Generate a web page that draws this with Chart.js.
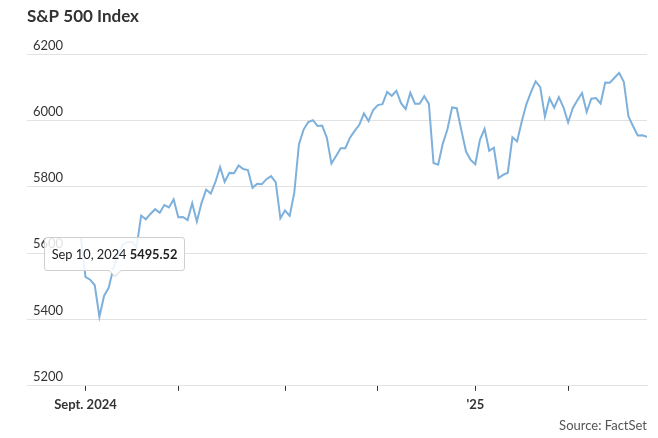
<!DOCTYPE html>
<html>
<head>
<meta charset="utf-8">
<title>S&amp;P 500 Index</title>
<script src="https://cdn.jsdelivr.net/npm/chart.js@4/dist/chart.umd.min.js"></script>
<style>
  body { margin: 0; background: #fff; }
  #wrap { position: relative; width: 658px; height: 438px; }
  #tip {
    position: absolute;
    opacity: 0;
    background: rgba(255, 255, 255, 0.85);
    border: 1px solid #cfcfcf;
    border-radius: 3px;
    font: 12.8px Lato, sans-serif;
    color: #222;
    padding: 7px 7px;
    line-height: 18px;
    white-space: nowrap;
    pointer-events: none;
  }
  #tip::before, #tip::after {
    content: '';
    position: absolute;
    left: 50%;
    border-style: solid;
    border-color: transparent;
  }
  #tip::before { top: 100%; margin-left: -7px; border-width: 7px 7px 0 7px; border-top-color: #cfcfcf; }
  #tip::after { top: 100%; margin-left: -6px; border-width: 6px 6px 0 6px; border-top-color: rgba(255, 255, 255, 0.95); }
  #tip b { font-weight: 700; }
</style>
</head>
<body>
<div id="wrap">
  <canvas id="my-chart" width="658" height="438"></canvas>
  <div id="tip"></div>
</div>
<script>
'use strict';

// ******** DATA **************
// trading days shown on the chart
let dates = [
  '2024-08-30',
  '2024-09-03', '2024-09-04', '2024-09-05', '2024-09-06', '2024-09-09', '2024-09-10', '2024-09-11', '2024-09-12', '2024-09-13', '2024-09-16',
  '2024-09-17', '2024-09-18', '2024-09-19', '2024-09-20', '2024-09-23', '2024-09-24', '2024-09-25', '2024-09-26', '2024-09-27', '2024-09-30',
  '2024-10-01', '2024-10-02', '2024-10-03', '2024-10-04', '2024-10-07', '2024-10-08', '2024-10-09', '2024-10-10', '2024-10-11', '2024-10-14',
  '2024-10-15', '2024-10-16', '2024-10-17', '2024-10-18', '2024-10-21', '2024-10-22', '2024-10-23', '2024-10-24', '2024-10-25', '2024-10-28',
  '2024-10-29', '2024-10-30', '2024-10-31',
  '2024-11-01', '2024-11-04', '2024-11-05', '2024-11-06', '2024-11-07', '2024-11-08', '2024-11-11', '2024-11-12', '2024-11-13', '2024-11-14',
  '2024-11-15', '2024-11-18', '2024-11-19', '2024-11-20', '2024-11-21', '2024-11-22', '2024-11-25', '2024-11-26', '2024-11-27', '2024-11-29',
  '2024-12-02', '2024-12-03', '2024-12-04', '2024-12-05', '2024-12-06', '2024-12-09', '2024-12-10', '2024-12-11', '2024-12-12', '2024-12-13',
  '2024-12-16', '2024-12-17', '2024-12-18', '2024-12-19', '2024-12-20', '2024-12-23', '2024-12-24', '2024-12-26', '2024-12-27', '2024-12-30',
  '2024-12-31',
  '2025-01-02', '2025-01-03', '2025-01-06', '2025-01-07', '2025-01-08', '2025-01-10', '2025-01-13', '2025-01-14', '2025-01-15', '2025-01-16',
  '2025-01-17', '2025-01-21', '2025-01-22', '2025-01-23', '2025-01-24', '2025-01-27', '2025-01-28', '2025-01-29', '2025-01-30', '2025-01-31',
  '2025-02-03', '2025-02-04', '2025-02-05', '2025-02-06', '2025-02-07', '2025-02-10', '2025-02-11', '2025-02-12', '2025-02-13', '2025-02-14',
  '2025-02-18', '2025-02-19', '2025-02-20', '2025-02-21', '2025-02-24', '2025-02-25', '2025-02-26', '2025-02-27'
];

// index level, one per trading day
let closes = [
  5648.40,
  5528.93, 5520.07, 5503.41, 5408.42, 5471.05, 5495.52, 5554.13, 5595.76, 5626.02, 5633.09,
  5634.58, 5618.26, 5713.64, 5702.55, 5718.57, 5732.93, 5722.26, 5745.37, 5738.17, 5762.48,
  5708.75, 5709.54, 5699.94, 5751.07, 5695.94, 5751.13, 5792.04, 5780.05, 5815.03, 5859.85,
  5815.26, 5842.47, 5841.47, 5864.67, 5853.98, 5851.20, 5797.42, 5809.86, 5808.12, 5823.52,
  5832.92, 5813.67, 5705.45,
  5728.80, 5712.69, 5782.76, 5929.04, 5973.10, 5995.54, 6001.35, 5983.99, 5985.38, 5949.17,
  5870.62, 5893.62, 5916.98, 5917.11, 5948.71, 5969.34, 5987.37, 6021.63, 5998.74, 6032.38,
  6047.15, 6049.88, 6086.49, 6075.11, 6090.27, 6052.85, 6034.91, 6084.19, 6051.25, 6051.09,
  6074.08, 6050.61, 5872.16, 5867.08, 5930.85, 5974.07, 6040.04, 6037.59, 5970.84, 5906.94,
  5881.63,
  5868.55, 5942.47, 5975.38, 5909.03, 5918.25, 5827.04, 5836.22, 5842.91, 5949.91, 5937.34,
  5996.66, 6049.24, 6086.37, 6118.71, 6101.24, 6012.28, 6067.70, 6039.31, 6071.17, 6040.53,
  5994.57, 6037.88, 6061.48, 6083.57, 6025.99, 6066.44, 6068.50, 6051.97, 6115.07, 6114.63,
  6129.58, 6144.15, 6117.52, 6013.13, 5983.25, 5955.25, 5956.06, 5951.00
];

// month ticks on the x axis and their labels
let monthTicks = ['2024-09', '2024-10', '2024-11', '2024-12', '2025-01', '2025-02'];
let monthLabels = ['Sept. 2024', '', '', '', '\'25', ''];

// y axis tick values
let yTicks = [5200, 5400, 5600, 5800, 6000, 6200];

// the day the tooltip is showing
let tipDate = '2024-09-10';

let monthNames = ['Jan', 'Feb', 'Mar', 'Apr', 'May', 'Jun', 'Jul', 'Aug', 'Sep', 'Oct', 'Nov', 'Dec'];

// ********* DOM REFERENCES ****************
let canvasElem = document.getElementById('my-chart');
let tipElem = document.getElementById('tip');

// *********** HELPER FUNCTIONS ***************
function formatDate(str) {
  let parts = str.split('-');
  return `${monthNames[Number(parts[1]) - 1]} ${Number(parts[2])}, ${parts[0]}`;
}

// first trading day of every month tick
let tickIndexes = monthTicks.map(m => dates.findIndex(d => d.startsWith(m)));

function tickLabel(value) {
  let i = tickIndexes.indexOf(value);
  return i === -1 ? '' : monthLabels[i];
}

function externalTooltip(context) {
  let tooltip = context.tooltip;
  if (tooltip.opacity === 0) {
    tipElem.style.opacity = 0;
    return;
  }
  let point = tooltip.dataPoints[0];
  tipElem.innerHTML = `${formatDate(dates[point.dataIndex])} <b>${closes[point.dataIndex].toFixed(2)}</b>`;
  let w = tipElem.offsetWidth;
  let h = tipElem.offsetHeight;
  tipElem.style.left = (tooltip.caretX + 6 - w / 2) + 'px';
  tipElem.style.top = (tooltip.caretY - 17 - h) + 'px';
  tipElem.style.opacity = 1;
}

// ************** CHART ************************
let points = closes.map((v, i) => ({ x: i, y: v }));

let myChart = new Chart(canvasElem, {
  type: 'line',
  data: {
    datasets: [{
      label: 'S&P 500 Index',
      data: points,
      borderColor: '#7eb0dc',
      borderWidth: 2,
      pointRadius: 0,
      pointHoverRadius: 0,
      tension: 0
    }]
  },
  options: {
    responsive: false,
    animation: false,
    devicePixelRatio: 1,
    events: [],
    layout: {
      padding: { left: 27, right: 11, top: 0, bottom: 0 }
    },
    scales: {
      x: {
        type: 'linear',
        min: -11.6,
        max: dates.length - 1,
        afterBuildTicks: scale => {
          scale.ticks = tickIndexes.map(v => ({ value: v }));
        },
        grid: {
          drawOnChartArea: false,
          drawTicks: true,
          tickLength: 5,
          tickColor: '#333'
        },
        border: { display: true, color: '#e2e2e2' },
        ticks: {
          autoSkip: false,
          maxRotation: 0,
          padding: 6,
          color: '#333',
          font: { family: 'Lato', size: 13, weight: 'bold' },
          callback: value => tickLabel(value)
        }
      },
      y: {
        min: yTicks[0],
        max: yTicks[yTicks.length - 1],
        afterBuildTicks: scale => {
          scale.ticks = yTicks.map(v => ({ value: v }));
        },
        // labels sit inside the plot, so the axis takes no room
        afterFit: scale => {
          scale.width = 0;
        },
        grid: { color: '#e2e2e2', drawTicks: false },
        border: { display: false },
        ticks: {
          mirror: true,
          padding: 6,
          labelOffset: -9,
          color: '#333',
          font: { family: 'Lato', size: 13 },
          callback: value => String(value)
        }
      }
    },
    plugins: {
      legend: { display: false },
      title: {
        display: true,
        text: 'S&P 500 Index',
        align: 'start',
        color: '#333',
        font: { family: 'Lato', size: 17, weight: 'bold' },
        padding: { top: 6, bottom: 28 }
      },
      subtitle: {
        display: true,
        text: 'Source: FactSet',
        position: 'bottom',
        align: 'end',
        color: '#555',
        font: { family: 'Lato', size: 13 },
        padding: { top: 0, bottom: 4 }
      },
      tooltip: {
        enabled: false,
        external: externalTooltip
      }
    }
  }
});

// show the tooltip on the picked day
let tipIndex = dates.indexOf(tipDate);
myChart.tooltip.setActiveElements([{ datasetIndex: 0, index: tipIndex }], { x: 0, y: 0 });
myChart.update();
</script>
</body>
</html>
